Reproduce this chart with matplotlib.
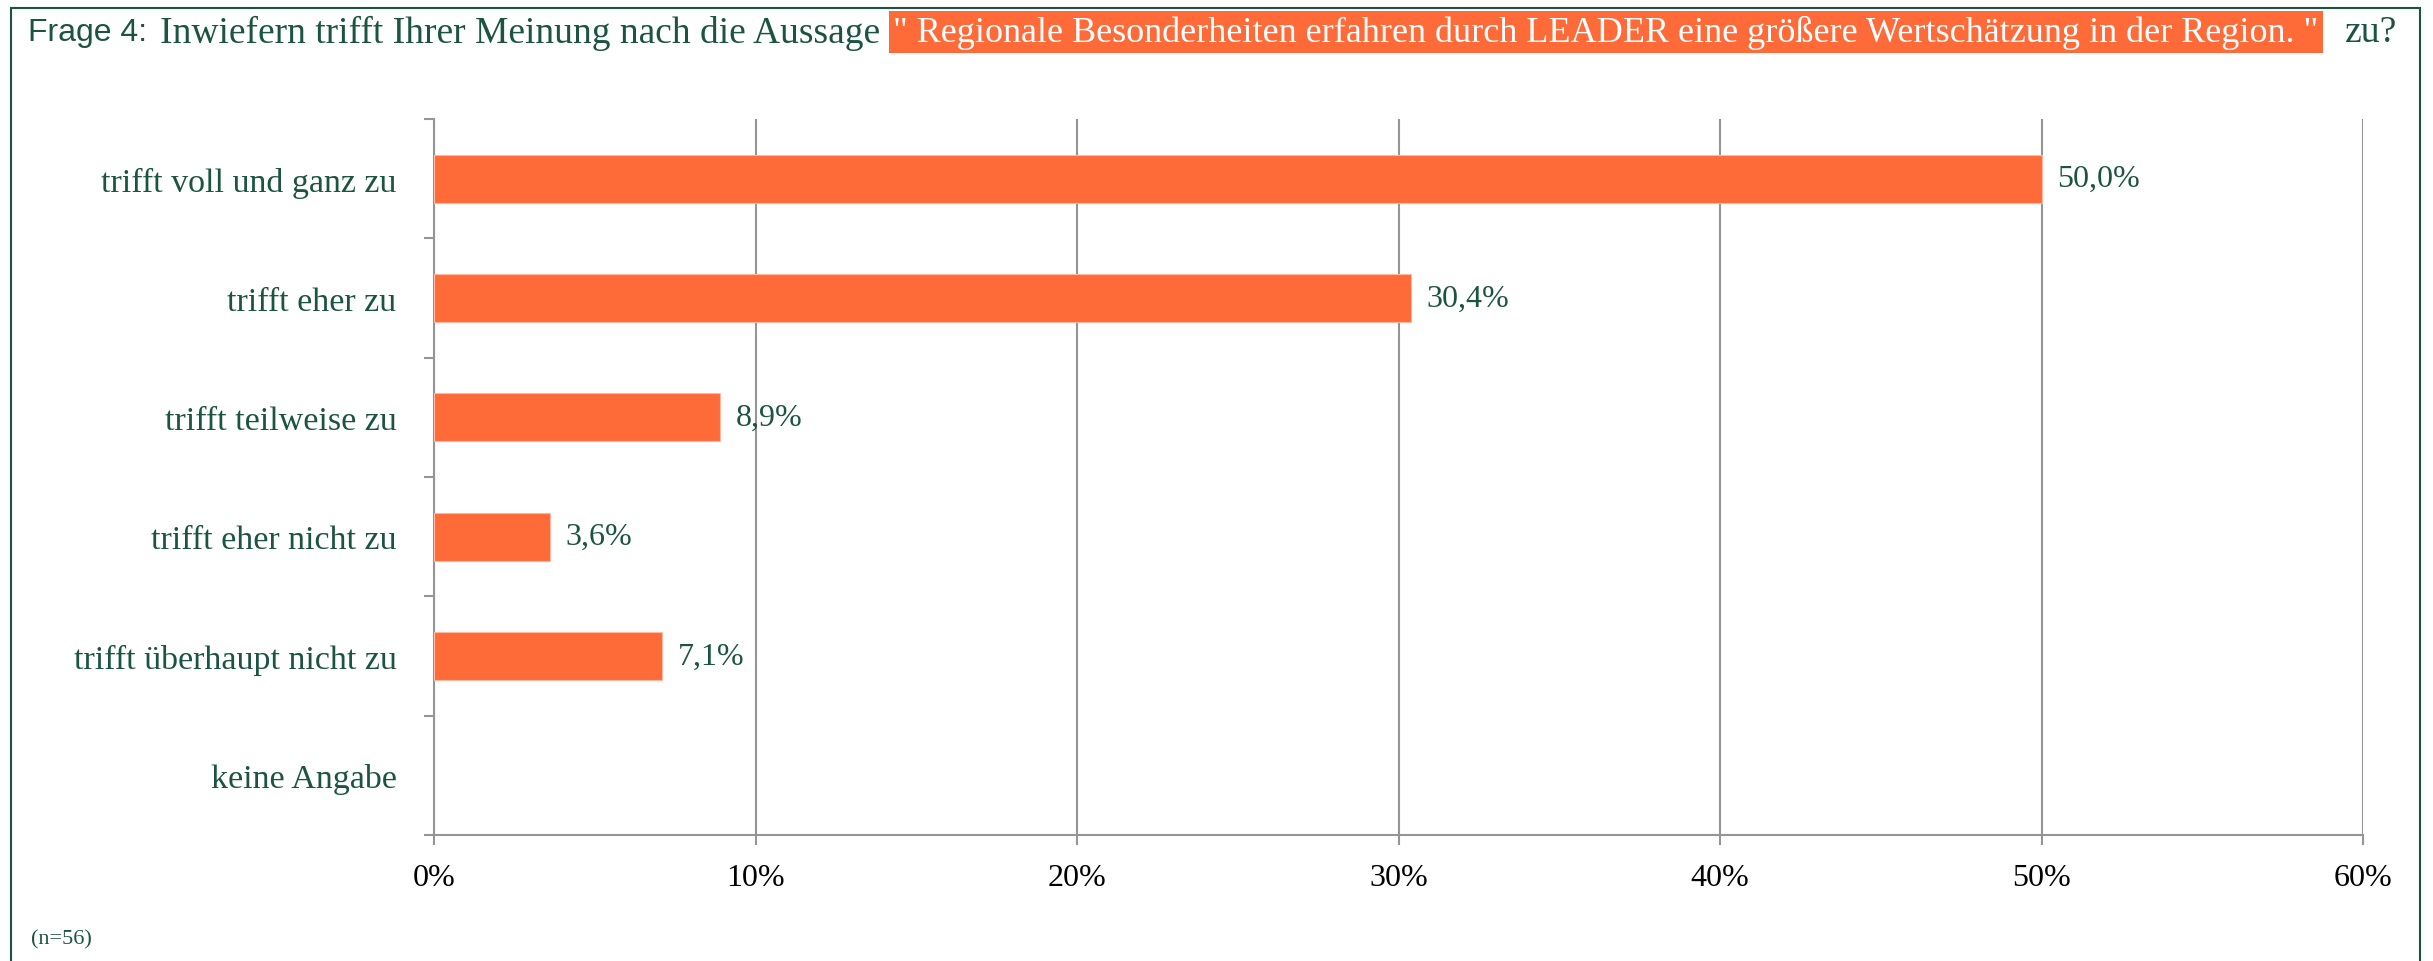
import matplotlib
matplotlib.use("Agg")
import matplotlib.pyplot as plt
from matplotlib.patches import Rectangle
from matplotlib.ticker import FixedLocator

categories = ["trifft voll und ganz zu", "trifft eher zu", "trifft teilweise zu",
              "trifft eher nicht zu", "trifft überhaupt nicht zu", "keine Angabe"]
values = [50.0, 30.4, 8.9, 3.6, 7.1, None]
value_labels = ["50,0%", "30,4%", "8,9%", "3,6%", "7,1%", None]
xticks = [0, 10, 20, 30, 40, 50, 60]
xtick_labels = ["0%", "10%", "20%", "30%", "40%", "50%", "60%"]

title_prefix = "Frage 4:"
title_text = "Inwiefern trifft Ihrer Meinung nach die Aussage"
title_highlight = "\" Regionale Besonderheiten erfahren durch LEADER eine größere Wertschätzung in der Region. \""
title_suffix = "zu?"
note = "(n=56)"

W, H = 2433, 962
GREEN = "#1c5442"
ORANGE = "#FF6A39"
GRAY = "#959595"
SERIF = ["Liberation Serif", "DejaVu Serif"]
SANS_N = ["Liberation Sans Narrow", "Liberation Sans", "DejaVu Sans"]

fig = plt.figure(figsize=(W / 100, H / 100), dpi=100)
fig.patch.set_facecolor("white")

ax = fig.add_axes([434 / W, 1 - 836 / H, (2363 - 434) / W, (836 - 120) / H])
ypos = list(range(len(categories)))
for y, v in zip(ypos, values):
    if v is not None:
        ax.barh(y, v, height=0.4, color=ORANGE, edgecolor="#FFB9A0", linewidth=0.8, zorder=3)
for y, v, lab in zip(ypos, values, value_labels):
    if v is not None:
        ax.annotate(lab, xy=(v, y), xytext=(11, 0), textcoords="offset points",
                    ha="left", va="center", fontsize=23, color=GREEN, family=SERIF)

ax.set_xlim(0, 60)
ax.set_ylim(len(categories) - 0.5, -0.5)
ax.set_xticks(xticks)
ax.set_xticklabels(xtick_labels, fontsize=23, family=SERIF, color="black")
ax.tick_params(axis="x", direction="out", length=7.5, width=1.5, color=GRAY, pad=13)
ax.set_yticks(ypos)
ax.set_yticklabels(categories, fontsize=24.5, family=SERIF, color=GREEN)
ax.tick_params(axis="y", which="major", length=0, pad=27)
ax.yaxis.set_minor_locator(FixedLocator([i - 0.5 for i in range(len(categories) + 1)]))
ax.tick_params(axis="y", which="minor", direction="out", length=7.5, width=1.5, color=GRAY)
ax.grid(axis="x", color=GRAY, linewidth=1.5, zorder=0)
ax.set_axisbelow(True)
for s in ["top", "right"]:
    ax.spines[s].set_visible(False)
for s in ["left", "bottom"]:
    ax.spines[s].set_color(GRAY)
    ax.spines[s].set_linewidth(1.5)

# frame
fig.patches.append(Rectangle((11 / W, -0.02), (2420 - 11) / W, 1.02 - 9 / H,
                             transform=fig.transFigure, fill=False,
                             edgecolor=GREEN, linewidth=1.5))

# title
ty = 1 - 33 / H
fig.text(28 / W, ty, title_prefix, fontsize=23, family=SANS_N, color=GREEN, va="center", ha="left")
fig.text(160 / W, ty, title_text, fontsize=27, family=SERIF, color=GREEN, va="center", ha="left")
fig.text(893 / W, ty, title_highlight, fontsize=26, family=SERIF, color="white", va="center", ha="left",
         bbox=dict(boxstyle="square,pad=0.12", facecolor=ORANGE, edgecolor="none"))
fig.text(2345 / W, ty, title_suffix, fontsize=27, family=SERIF, color=GREEN, va="center", ha="left")

fig.text(31 / W, 1 - 940 / H, note, fontsize=16, family=SERIF, color=GREEN, va="center", ha="left")

fig.savefig("out.png", dpi=100)
